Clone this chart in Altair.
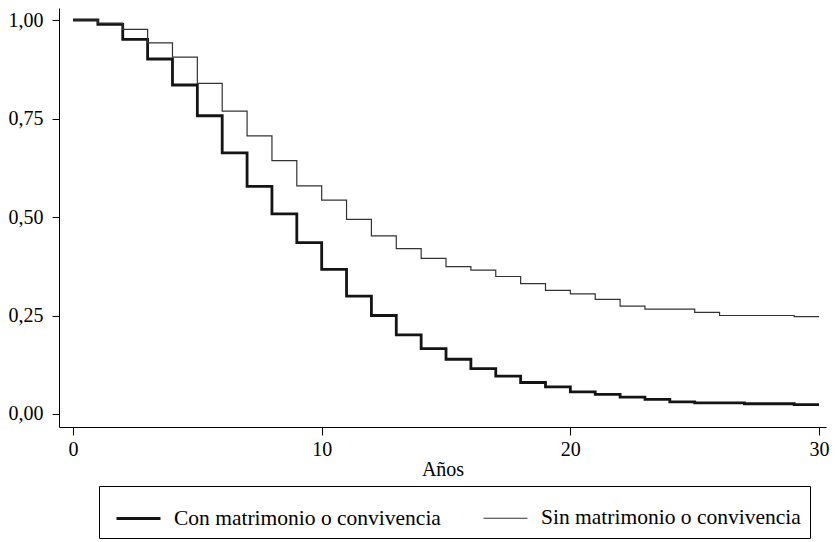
import altair as alt
import pandas as pd

years = list(range(0, 31))
con = [1.000, 0.989, 0.951, 0.901, 0.835, 0.757, 0.663, 0.578, 0.508, 0.435,
       0.367, 0.299, 0.250, 0.201, 0.166, 0.139, 0.115, 0.096, 0.080, 0.069,
       0.056, 0.050, 0.043, 0.037, 0.031, 0.028, 0.028, 0.026, 0.026, 0.024, 0.024]
sin = [1.000, 0.992, 0.976, 0.942, 0.906, 0.839, 0.769, 0.706, 0.643, 0.579,
       0.543, 0.494, 0.452, 0.420, 0.395, 0.374, 0.365, 0.349, 0.331, 0.314,
       0.305, 0.291, 0.274, 0.266, 0.266, 0.258, 0.250, 0.250, 0.250, 0.247, 0.247]
groups = ["Con matrimonio o convivencia", "Sin matrimonio o convivencia"]
y_ticks = [0, 0.25, 0.5, 0.75, 1.0]
x_ticks = [0, 10, 20, 30]

rows = []
for g, vals in zip(groups, [con, sin]):
    for yr, v in zip(years, vals):
        rows.append({"year": yr, "surv": v, "group": g})
df = pd.DataFrame(rows)

FONT = "Liberation Serif"

legend_opts = dict(
    title=None, orient="none", legendX=40, legendY=478,
    columns=2, columnPadding=34,
    symbolType="stroke", symbolSize=1936, symbolOffset=7,
    labelOffset=12, labelFont=FONT, labelFontSize=21.5,
    labelColor="black", labelLimit=400,
    labelExpr="datum.label == 'Sin matrimonio o convivencia' ? datum.label + '\u00a0\u00a0' : datum.label",
    padding=9, strokeColor="black", fillColor="white",
)

chart = alt.Chart(df).mark_line(interpolate="step-after", clip=True).encode(
    x=alt.X("year:Q",
            scale=alt.Scale(domain=[-0.563, 30.28], nice=False, zero=False),
            axis=alt.Axis(values=x_ticks, title="Años", grid=False,
                          domainColor="black", tickColor="black",
                          tickSize=8, labelPadding=4, titlePadding=0,
                          labelFont=FONT, labelFontSize=20, labelColor="black",
                          titleFont=FONT, titleFontSize=20, titleFontWeight="normal",
                          titleColor="black", labelFlush=False)),
    y=alt.Y("surv:Q",
            scale=alt.Scale(domain=[-0.033, 1.0305], nice=False, zero=False),
            axis=alt.Axis(values=y_ticks, title=None, grid=False,
                          labelExpr="replace(format(datum.value, '.2f'), '.', ',')",
                          domainColor="black", tickColor="black",
                          tickSize=7, labelPadding=9,
                          labelFont=FONT, labelFontSize=20, labelColor="black")),
    color=alt.Color("group:N",
                    scale=alt.Scale(domain=groups, range=["#141414", "#333333"]),
                    legend=alt.Legend(**legend_opts)),
    strokeWidth=alt.StrokeWidth("group:N",
                                scale=alt.Scale(domain=groups, range=[2.8, 1.2]),
                                legend=alt.Legend(**legend_opts)),
    order="year:Q",
).properties(
    width=767, height=419,
    autosize=alt.AutoSizeParams(type="none"),
    padding={"left": 51, "top": 0, "right": 4, "bottom": 114},
    background="white",
).configure_view(strokeWidth=0)

chart.save("out.html", embed_options={"renderer": "svg", "actions": False})
